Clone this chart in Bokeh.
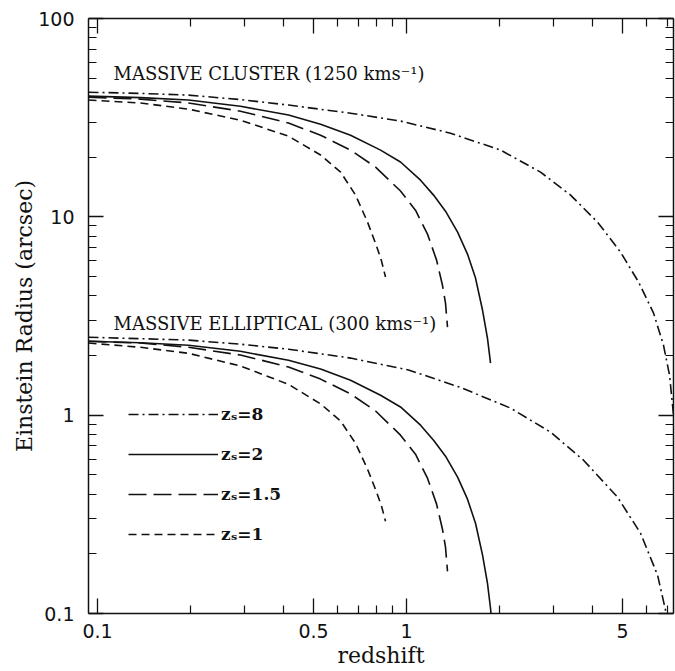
from bokeh.plotting import figure
from bokeh.models import (Range1d, FixedTicker, LogAxis, Label, Legend, LegendItem,
                          CustomJSTickFormatter)
from bokeh.embed import file_html
from bokeh.resources import INLINE

# ---------------- data ----------------
# Massive cluster (1250 km/s)
z_c8 = [0.0935, 0.1378, 0.197, 0.290, 0.415, 0.659, 0.956, 1.388, 2.015, 2.715, 3.395, 4.152, 4.926, 5.635, 6.301, 6.787, 7.097, 7.312]
r_c8 = [42.5, 41.9, 41.1, 39.0, 36.6, 33.3, 30.4, 26.4, 21.7, 16.8, 12.87, 9.40, 6.64, 4.69, 3.27, 2.25, 1.59, 1.0]

z_c2 = [0.0935, 0.1378, 0.197, 0.290, 0.415, 0.527, 0.659, 0.824, 0.956, 1.110, 1.223, 1.337, 1.463, 1.575, 1.672, 1.762, 1.828, 1.870]
r_c2 = [40.6, 39.9, 38.8, 36.1, 32.6, 29.3, 25.8, 21.7, 18.9, 15.3, 12.87, 10.68, 8.37, 6.49, 4.91, 3.38, 2.44, 1.83]

z_c15 = [0.0935, 0.1378, 0.197, 0.290, 0.415, 0.527, 0.659, 0.794, 0.956, 1.069, 1.169, 1.251, 1.307, 1.337, 1.357]
r_c15 = [40.1, 39.2, 37.5, 34.1, 29.7, 25.8, 21.7, 17.8, 13.5, 10.8, 8.18, 6.05, 4.52, 3.67, 2.78]

z_c1 = [0.0935, 0.1378, 0.197, 0.290, 0.415, 0.527, 0.612, 0.684, 0.748, 0.800, 0.830, 0.855]
r_c1 = [38.8, 37.5, 34.9, 30.7, 25.5, 20.5, 16.8, 12.87, 9.40, 7.11, 5.98, 4.97]

# Massive elliptical (300 km/s)
z_e8 = [0.0935, 0.1378, 0.197, 0.290, 0.415, 0.659, 1.015, 1.495, 2.171, 2.924, 3.739, 4.818, 5.718, 6.493, 6.887, 7.045]
r_e8 = [2.47, 2.43, 2.39, 2.28, 2.15, 1.94, 1.69, 1.38, 1.085, 0.821, 0.593, 0.386, 0.254, 0.156, 0.104, 0.0873]

z_e2 = [0.0935, 0.1378, 0.197, 0.290, 0.415, 0.527, 0.659, 0.824, 0.956, 1.110, 1.223, 1.337, 1.463, 1.575, 1.672, 1.762, 1.828, 1.870, 1.884]
r_e2 = [2.36, 2.32, 2.25, 2.10, 1.89, 1.71, 1.50, 1.26, 1.10, 0.890, 0.748, 0.621, 0.487, 0.377, 0.285, 0.197, 0.142, 0.106, 0.0925]

z_e15 = [0.0935, 0.1378, 0.197, 0.290, 0.415, 0.527, 0.659, 0.794, 0.956, 1.069, 1.169, 1.251, 1.307, 1.337, 1.357]
r_e15 = [2.36, 2.31, 2.20, 2.01, 1.75, 1.52, 1.28, 1.05, 0.793, 0.636, 0.481, 0.356, 0.266, 0.216, 0.163]

z_e1 = [0.0935, 0.1378, 0.197, 0.290, 0.415, 0.527, 0.612, 0.684, 0.748, 0.800, 0.830, 0.855]
r_e1 = [2.31, 2.20, 2.05, 1.77, 1.43, 1.14, 0.933, 0.722, 0.534, 0.409, 0.348, 0.292]

legend_labels = ["z\u209b=8", "z\u209b=2", "z\u209b=1.5", "z\u209b=1"]
x_major = [0.1, 0.5, 1, 5]
x_minor = [0.2, 0.3, 0.4, 0.6, 0.7, 0.8, 0.9, 2, 3, 4, 6, 7]
x_labels = ["0.1", "0.5", "1", "5"]
y_major = [0.1, 1, 10, 100]
y_minor = [0.2, 0.3, 0.4, 0.5, 0.6, 0.7, 0.8, 0.9, 2, 3, 4, 5, 6, 7, 8, 9, 20, 30, 40, 50, 60, 70, 80, 90]
y_labels = ["0.1", "1", "10", "100"]

# ---------------- figure ----------------
INK = "#111111"
p = figure(x_axis_type="log", y_axis_type="log",
           x_range=Range1d(0.0935, 7.31), y_range=Range1d(0.1, 100),
           frame_width=585, frame_height=595,
           min_border_left=88, min_border_top=18, min_border_right=2, min_border_bottom=50,
           output_backend="svg", toolbar_location=None)
p.outline_line_color = None
p.xgrid.visible = False
p.ygrid.visible = False
p.background_fill_color = "white"
p.border_fill_color = "white"


def style_axis(ax, ticker, labels=None, majors=None, standoff=11):
    ax.ticker = ticker
    ax.axis_line_color = INK
    ax.axis_line_width = 1.5
    ax.major_tick_line_color = INK
    ax.minor_tick_line_color = INK
    ax.major_tick_line_width = 1.3
    ax.minor_tick_line_width = 1.2
    ax.major_tick_in = 15
    ax.major_tick_out = 0
    ax.minor_tick_in = 8
    ax.minor_tick_out = 0
    if labels is None:
        ax.formatter = CustomJSTickFormatter(code="return ''")
        ax.major_label_standoff = 0
    else:
        ax.major_label_overrides = {m: l for m, l in zip(majors, labels)}
        ax.major_label_text_font = "DejaVu Sans"
        ax.major_label_text_font_size = "19px"
        ax.major_label_text_color = INK
        ax.major_label_standoff = standoff


style_axis(p.xaxis[0], FixedTicker(ticks=x_major, minor_ticks=x_minor), x_labels, x_major, 10)
style_axis(p.yaxis[0], FixedTicker(ticks=y_major, minor_ticks=y_minor), y_labels, y_major, 14)
p.xaxis[0].axis_label = "redshift"
p.yaxis[0].axis_label = "Einstein Radius (arcsec)"
for ax in (p.xaxis[0], p.yaxis[0]):
    ax.axis_label_text_font = "DejaVu Serif"
    ax.axis_label_text_font_size = "22px"
    ax.axis_label_text_font_style = "normal"
    ax.axis_label_text_color = INK
p.xaxis[0].axis_label_standoff = 2
p.yaxis[0].axis_label_standoff = -2

top = LogAxis()
style_axis(top, FixedTicker(ticks=x_major, minor_ticks=x_minor))
p.add_layout(top, "above")
right = LogAxis()
style_axis(right, FixedTicker(ticks=y_major, minor_ticks=y_minor))
p.add_layout(right, "right")

# ---------------- curves ----------------
styles = {
    "8": dict(line_dash="10 4 2 4"),
    "2": dict(line_dash="solid"),
    "1.5": dict(line_dash="18 7"),
    "1": dict(line_dash="8 5"),
}
lw = 1.6
rc8 = p.line(z_c8, r_c8, line_color=INK, line_width=lw, **styles["8"])
rc2 = p.line(z_c2, r_c2, line_color=INK, line_width=lw, **styles["2"])
rc15 = p.line(z_c15, r_c15, line_color=INK, line_width=lw, **styles["1.5"])
rc1 = p.line(z_c1, r_c1, line_color=INK, line_width=lw, **styles["1"])
p.line(z_e8, r_e8, line_color=INK, line_width=lw, **styles["8"])
p.line(z_e2, r_e2, line_color=INK, line_width=lw, **styles["2"])
p.line(z_e15, r_e15, line_color=INK, line_width=lw, **styles["1.5"])
p.line(z_e1, r_e1, line_color=INK, line_width=lw, **styles["1"])

# ---------------- annotations ----------------
for txt, yv in [("MASSIVE CLUSTER (1250 kms\u207b\u00b9)", 53.0),
                ("MASSIVE ELLIPTICAL (300 kms\u207b\u00b9)", 2.91)]:
    p.add_layout(Label(x=0.1127, y=yv, text=txt, text_font="DejaVu Serif",
                       text_font_size="18px", text_color=INK,
                       text_baseline="alphabetic", text_align="left"))

legend = Legend(items=[LegendItem(label=l, renderers=[r]) for l, r in
                       zip(legend_labels, [rc8, rc2, rc15, rc1])],
                location=(40, 69), padding=0, margin=0, spacing=20,
                glyph_width=90, glyph_height=20, label_height=20, label_standoff=3,
                label_text_font="DejaVu Serif", label_text_font_style="bold",
                label_text_font_size="17px", label_text_color=INK,
                background_fill_alpha=0, border_line_alpha=0)
p.add_layout(legend)

open("out.html", "w").write(file_html(p, INLINE))
